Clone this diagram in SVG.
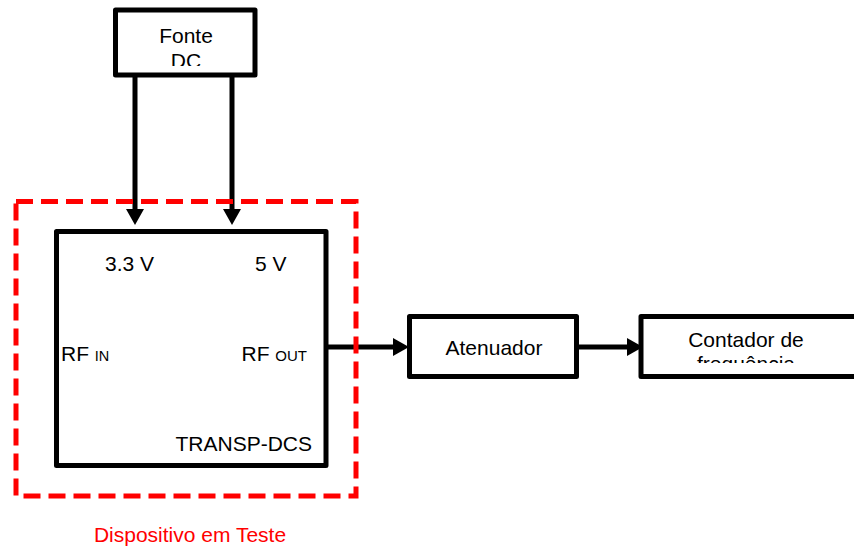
<svg xmlns="http://www.w3.org/2000/svg" width="854" height="549" viewBox="0 0 854 549">
<style>
.box{fill:#fff;stroke:#000;stroke-width:5;stroke-linejoin:round}
.t{font-family:"Liberation Sans",Arial,sans-serif;font-size:21px;fill:#000}
.c{stroke:#000;stroke-width:5;fill:none}
.dut{fill:none;stroke:#ff0000;stroke-width:5;stroke-dasharray:17 8}
</style>
<defs>
<marker id="ah" markerUnits="userSpaceOnUse" markerWidth="16" markerHeight="18" refX="0" refY="9" orient="auto" viewBox="0 0 16 18">
<polygon points="0,0 16,9 0,18" fill="#000"/>
</marker>
<clipPath id="cf"><rect x="115" y="10" width="140" height="56"/></clipPath>
<clipPath id="cc"><rect x="641" y="316" width="213" height="47"/></clipPath>
</defs>
<g id="connectors">
<line class="c" x1="135" y1="75" x2="135" y2="209" marker-end="url(#ah)"/>
<line class="c" x1="232" y1="75" x2="232" y2="209" marker-end="url(#ah)"/>
<line class="c" x1="326" y1="347" x2="393" y2="347" marker-end="url(#ah)"/>
<line class="c" x1="577" y1="347" x2="627" y2="347" marker-end="url(#ah)"/>
</g>
<g id="fonte">
<rect class="box" x="115.5" y="10" width="139.5" height="65"/>
<g clip-path="url(#cf)">
<text class="t" x="186" y="43" text-anchor="middle">Fonte</text>
<text class="t" x="186" y="67.5" text-anchor="middle">DC</text>
</g>
</g>
<g id="dut">
<rect class="dut" x="16" y="201.5" width="340" height="294.5"/>
<text x="190" y="541.5" text-anchor="middle" style="font-family:'Liberation Sans',Arial,sans-serif;font-size:21px;fill:#ff0000">Dispositivo em Teste</text>
</g>
<g id="transp">
<rect class="box" x="56.5" y="231.5" width="269.5" height="234"/>
<text class="t" x="105" y="271">3.3 V</text>
<text class="t" x="255" y="271">5 V</text>
<text class="t" x="61" y="361">RF <tspan style="font-size:14.5px">IN</tspan></text>
<text class="t" x="307" y="361" text-anchor="end">RF <tspan style="font-size:15px">OUT</tspan></text>
<text class="t" x="312" y="451" text-anchor="end">TRANSP-DCS</text>
</g>
<g id="atenuador">
<rect class="box" x="409.5" y="316.5" width="167" height="60"/>
<text class="t" x="494" y="355" text-anchor="middle">Atenuador</text>
</g>
<g id="contador">
<rect class="box" x="641" y="316.5" width="230" height="60"/>
<g clip-path="url(#cc)">
<text class="t" x="746" y="347" text-anchor="middle">Contador de</text>
<text class="t" x="746" y="371" text-anchor="middle">frequência</text>
</g>
</g>
</svg>
